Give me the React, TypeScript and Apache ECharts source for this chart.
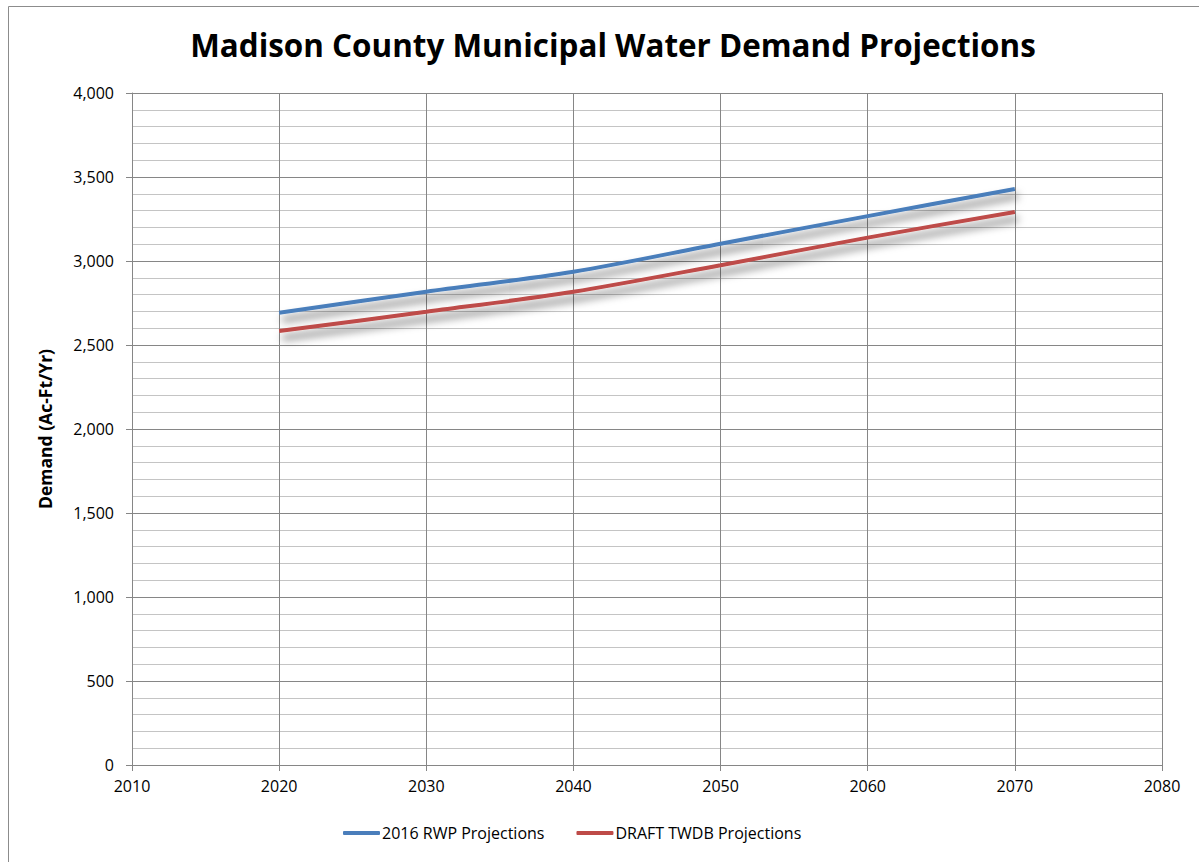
import React, { useEffect, useRef } from "react";
import * as echarts from "echarts";

const years = [2020, 2030, 2040, 2050, 2060, 2070];
const rwp2016 = [2692, 2817, 2936, 3103, 3267, 3429];
const draftTwdb = [2583, 2698, 2817, 2975, 3139, 3292];
const seriesNames = ["2016 RWP Projections", "DRAFT TWDB Projections"];
const titleText = "Madison County Municipal Water Demand Projections";
const yAxisName = "Demand (Ac-Ft/Yr)";

const FONT = "Open Sans, Lato, sans-serif";

export default function App() {
  const ref = useRef<HTMLDivElement>(null);
  useEffect(() => {
    if (!ref.current) return;
    const chart = echarts.init(ref.current, undefined, { renderer: "svg" });
    const shadow = {
      shadowColor: "rgba(0,0,0,0.6)",
      shadowBlur: 8,
      shadowOffsetX: 3,
      shadowOffsetY: 7,
    };
    chart.setOption({
      animation: false,
      backgroundColor: "#ffffff",
      textStyle: { fontFamily: FONT },
      title: {
        text: titleText,
        left: 608,
        textAlign: "center",
        top: 24,
        textStyle: { fontSize: 31.4, fontWeight: "bold", color: "#000", fontFamily: FONT },
      },
      graphic: [
        {
          type: "rect",
          shape: { x: 8.5, y: 6.5, width: 1200, height: 900 },
          style: { fill: "none", stroke: "#8c8c8c", lineWidth: 1 },
          silent: true,
        },
      ],
      legend: {
        bottom: 16,
        left: 338,
        itemWidth: 37,
        itemHeight: 4,
        itemGap: 32,
        icon: "roundRect",
        textStyle: { fontSize: 16, color: "#000", fontFamily: FONT, padding: [0, 0, 0, -3] },
        data: seriesNames,
      },
      grid: { left: 132, right: 37, top: 93, bottom: 97, containLabel: false },
      xAxis: {
        type: "value",
        min: 2010,
        max: 2080,
        interval: 10,
        axisLine: { show: true, lineStyle: { color: "#868686", width: 1 } },
        axisTick: { show: true, length: 6, lineStyle: { color: "#868686" } },
        axisLabel: {
          fontSize: 16,
          color: "#000",
          margin: 13,
          fontFamily: FONT,
          formatter: (v: number) => String(v),
        },
        splitLine: { show: true, lineStyle: { color: "#868686", width: 1 } },
      },
      yAxis: {
        type: "value",
        min: 0,
        max: 4000,
        interval: 500,
        name: yAxisName,
        nameLocation: "middle",
        nameGap: 78,
        nameTextStyle: { fontSize: 17.5, fontWeight: "bold", color: "#000", fontFamily: FONT },
        axisLine: { show: true, lineStyle: { color: "#868686", width: 1 } },
        axisTick: { show: true, length: 6, lineStyle: { color: "#868686" } },
        axisLabel: {
          fontSize: 16,
          color: "#000",
          margin: 18,
          fontFamily: FONT,
          formatter: (v: number) => v.toLocaleString("en-US"),
        },
        splitLine: { show: true, lineStyle: { color: "#868686", width: 1 } },
        minorTick: { show: false, splitNumber: 5 },
        minorSplitLine: { show: true, lineStyle: { color: "#c4c4c4", width: 1 } },
      },
      series: [
        {
          name: seriesNames[0],
          type: "line",
          smooth: 0.3,
          showSymbol: false,
          symbol: "none",
          data: years.map((y, i) => [y, rwp2016[i]]),
          itemStyle: { color: "#4a7ebb" },
          lineStyle: { color: "#4a7ebb", width: 4, ...shadow },
        },
        {
          name: seriesNames[1],
          type: "line",
          smooth: 0.3,
          showSymbol: false,
          symbol: "none",
          data: years.map((y, i) => [y, draftTwdb[i]]),
          itemStyle: { color: "#be4b48" },
          lineStyle: { color: "#be4b48", width: 4, ...shadow },
        },
      ],
    });
    return () => chart.dispose();
  }, []);
  return (
    <div
      ref={ref}
      style={{ position: "absolute", left: 0, top: 0, width: 1199, height: 862 }}
    />
  );
}
